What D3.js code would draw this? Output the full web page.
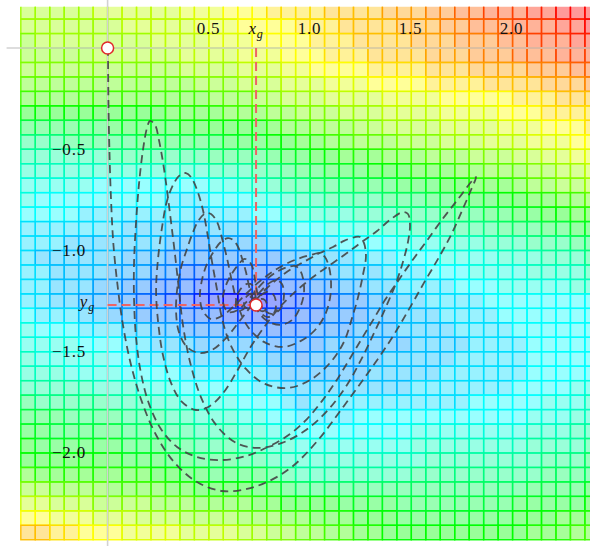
<!DOCTYPE html>
<html>
<head>
<meta charset="utf-8">
<script src="https://cdn.jsdelivr.net/npm/d3@7"></script>
<style>
  html, body { margin: 0; padding: 0; background: #fff; }
  svg { display: block; }
  .lbl { font-family: "Liberation Serif", "Times New Roman", serif; font-size: 17px; letter-spacing: 0.8px; fill: #111; }
</style>
</head>
<body>
<svg width="590" height="546"></svg>
<script>
// heat grid: one string per row (top to bottom), "level*count" runs, level 0 (min) .. 16 (max)
const cell = 0.0716;
const gridLeft = -6 * cell;
const gridTop = 3 * cell;
const heatRows = [
  "10.5*5 11*6 11.5*3 12*3 12.5*4 13*4 13.5*3 14*2 14.5*2 15*3 15.5*2 16*3",
  "10.5*7 11*5 11.5*3 12*4 12.5*3 13*4 13.5*3 14*2 14.5*3 15*3 15.5*2 16*1",
  "10*1 10.5*8 11*4 11.5*3 12*4 12.5*3 13*4 13.5*3 14*3 14.5*2 15*3 15.5*2",
  "10*5 10.5*6 11*4 11.5*3 12*3 12.5*3 13*4 13.5*3 14*3 14.5*3 15*3",
  "10*11 10.5*4 11*3 11.5*2 12*4 12.5*4 13*3 13.5*4 14*3 14.5*2",
  "9.5*12 10*3 10.5*3 11*3 11.5*3 12*4 12.5*4 13*4 13.5*3 14*1",
  "9*13 9.5*3 10*2 10.5*3 11*4 11.5*4 12*5 12.5*3 13*3",
  "8*10 8.5*4 9*3 9.5*2 10*3 10.5*3 11*4 11.5*4 12*3 12.5*4",
  "7*6 7.5*5 8*6 8.5*1 9*2 9.5*3 10*2 10.5*4 11*4 11.5*3 12*3 12.5*1",
  "6*3 6.5*5 7*6 7.5*3 8*2 8.5*2 9*2 9.5*3 10*3 10.5*3 11*3 11.5*3 12*2",
  "5.5*6 6*7 6.5*4 7*1 7.5*2 8*2 8.5*3 9*3 9.5*3 10*3 10.5*2 11*2 11.5*2",
  "5*13 5.5*3 6*2 6.5*1 7*2 7.5*3 8*3 8.5*3 9*2 9.5*3 10*2 10.5*2 11*1",
  "4.5*5 4*8 4.5*2 5*2 5.5*1 6*2 6.5*3 7*3 7.5*3 8*2 8.5*3 9*1 9.5*2 10*2 10.5*1",
  "4.5*1 4*9 3.5*3 4*3 4.5*2 5*1 5.5*2 6*4 6.5*3 7*2 7.5*3 8*2 8.5*2 9*2 9.5*1",
  "4*4 3.5*8 3*1 3.5*3 4*2 4.5*1 5*4 5.5*3 6*3 6.5*3 7*2 7.5*2 8*2 8.5*2",
  "3.5*7 3*5 2.5*1 3*4 3.5*1 4*3 4.5*3 5*3 5.5*3 6*3 6.5*3 7*2 7.5*2",
  "3.5*3 3*7 2.5*2 2*1 2.5*4 3*2 3.5*3 4*4 4.5*3 5*3 5.5*3 6*3 6.5*2",
  "3.5*1 3*6 2.5*3 2*8 2.5*2 3*3 3.5*3 4*3 4.5*4 5*3 5.5*3 6*1",
  "3.5*2 3*4 2.5*3 2*2 1.5*7 2*2 2.5*2 3*3 3.5*3 4*3 4.5*4 5*4 5.5*1",
  "3.5*2 3*3 2.5*2 2*2 1.5*3 1*6 1.5*2 2*2 2.5*2 3*2 3.5*4 4*3 4.5*5 5*2",
  "3.5*2 3*2 2.5*2 2*2 1.5*2 1*2 0.5*2 0*3 0.5*1 1*2 1.5*2 2*2 2.5*2 3*2 3.5*4 4*8",
  "4*1 3.5*3 3*2 2.5*2 2*3 1.5*3 1*5 1.5*2 2*3 2.5*2 3*3 3.5*4 4*7",
  "4.5*1 4*3 3.5*3 3*2 2.5*2 2*4 1.5*5 2*3 2.5*3 3*4 3.5*4 4*6",
  "4.5*4 4*3 3.5*2 3*3 2.5*5 2*4 2.5*6 3*4 3.5*4 4*5",
  "5*1 4.5*5 4*2 3.5*3 3*6 2.5*2 2*1 2.5*5 3*5 3.5*5 4*5",
  "5*3 4.5*4 4*4 3.5*6 3*1 2.5*6 3*5 3.5*6 4*5",
  "5.5*5 5*3 4.5*3 4*5 3.5*2 3*9 3.5*7 4*4 4.5*2",
  "6.5*1 6*5 5.5*3 5*2 4.5*4 4*3 3.5*1 3*1 3.5*11 4*5 4.5*3 5*1",
  "7*3 6.5*4 6*3 5.5*2 5*3 4.5*2 4*2 3.5*4 4*12 4.5*3 5*2",
  "7.5*2 7*5 6.5*3 6*2 5.5*3 5*2 4.5*2 4*8 4.5*8 5*3 5.5*2",
  "8*1 7.5*6 7*3 6.5*2 6*3 5.5*2 5*2 4.5*8 5*8 5.5*4 6*1",
  "8*7 7.5*3 7*2 6.5*3 6*2 5.5*1 5*10 5.5*8 6*3 6.5*1",
  "9*1 8.5*8 8*2 7.5*2 7*4 6.5*1 6*1 5.5*8 6*9 6.5*4",
  "10*2 9.5*4 9*4 8.5*2 8*4 7.5*2 7*1 6.5*16 7*4 7.5*1",
  "11*2 10.5*3 10*4 9.5*3 9*4 8.5*2 8*4 7.5*4 7*8 7.5*5 8*1",
  "12*2 11.5*3 11*3 10.5*3 10*4 9.5*3 9*2 8.5*3 8*3 7.5*8 8*3 8.5*3",
  "13*2 12.5*2 12*3 11.5*4 11*4 10.5*2 10*2 9.5*2 9*2 8.5*2 8*10 8.5*3 9*2"
];

const xTicks = [0.5, 1.0, 1.5, 2.0];
const yTicks = [-0.5, -1.0, -1.5, -2.0];
const start = [0, 0];
const goal = [0.735, -1.272];

// optimizer path
const path = [
  [0.002,0],[0.004,-0.257],[0.009,-0.505],[0.017,-0.752],[0.029,-0.975],[0.049,-1.173],[0.076,-1.371],
  [0.116,-1.569],[0.170,-1.752],[0.240,-1.916],[0.329,-2.050],[0.443,-2.149],[0.566,-2.193],[0.690,-2.183],
  [0.809,-2.139],[0.918,-2.069],
  [1.042,-1.941],[1.170,-1.772],[1.289,-1.609],[1.398,-1.450],[1.487,-1.302],[1.566,-1.163],[1.641,-1.035],
  [1.700,-0.926],[1.754,-0.807],[1.799,-0.703],[1.824,-0.639],
  [1.804,-0.658],[1.735,-0.748],[1.655,-0.851],[1.576,-0.960],[1.507,-1.054],[1.438,-1.153],[1.373,-1.248],
  [1.314,-1.347],[1.254,-1.446],[1.195,-1.545],[1.131,-1.649],[1.061,-1.748],[0.987,-1.837],[0.903,-1.911],
  [0.804,-1.970],[0.685,-2.020],[0.561,-2.040],[0.443,-2.025],[0.344,-1.975],[0.264,-1.886],[0.205,-1.762],
  [0.165,-1.609],[0.141,-1.436],[0.131,-1.248],[0.131,-1.059],[0.141,-0.861],[0.155,-0.678],[0.175,-0.505],
  [0.195,-0.396],[0.210,-0.361],
  [0.235,-0.381],[0.254,-0.455],[0.274,-0.564],[0.294,-0.703],[0.314,-0.861],[0.334,-1.025],[0.353,-1.198],
  [0.373,-1.371],[0.408,-1.554],[0.462,-1.728],[0.537,-1.866],[0.636,-1.955],[0.745,-1.980],[0.863,-1.955],
  [0.982,-1.891],[1.091,-1.792],[1.185,-1.668],[1.259,-1.535],[1.319,-1.411],[1.378,-1.282],[1.428,-1.163],
  [1.462,-1.059],[1.487,-0.960],[1.497,-0.876],[1.487,-0.822],
  [1.462,-0.812],[1.398,-0.851],[1.334,-0.906],[1.259,-0.960],[1.185,-1.015],[1.101,-1.074],[1.017,-1.134],
  [0.933,-1.203],[0.853,-1.282],[0.779,-1.376],[0.705,-1.485],[0.641,-1.599],[0.576,-1.703],[0.507,-1.772],
  [0.438,-1.792],[0.368,-1.752],[0.314,-1.658],[0.274,-1.520],[0.250,-1.356],[0.240,-1.198],[0.250,-1.040],
  [0.269,-0.891],[0.294,-0.757],[0.329,-0.668],[0.358,-0.629],[0.388,-0.619],
  [0.413,-0.639],[0.443,-0.703],[0.472,-0.802],[0.497,-0.936],[0.517,-1.059],[0.542,-1.198],[0.566,-1.337],
  [0.611,-1.475],[0.685,-1.589],[0.779,-1.663],[0.893,-1.683],[1.002,-1.644],[1.101,-1.559],[1.170,-1.455],
  [1.210,-1.337],[1.240,-1.233],[1.264,-1.124],[1.279,-1.030],[1.269,-0.965],[1.250,-0.936],
  [1.225,-0.936],[1.170,-0.955],[1.116,-0.985],[1.051,-1.015],[0.987,-1.050],[0.918,-1.089],[0.853,-1.134],
  [0.779,-1.198],[0.715,-1.272],[0.650,-1.356],[0.586,-1.436],[0.517,-1.495],[0.452,-1.510],[0.393,-1.480],
  [0.353,-1.406],[0.339,-1.307],[0.344,-1.198],[0.363,-1.089],[0.393,-0.995],[0.423,-0.911],[0.452,-0.851],
  [0.487,-0.817],
  [0.512,-0.822],[0.542,-0.861],[0.566,-0.941],[0.591,-1.040],[0.616,-1.158],[0.646,-1.277],[0.695,-1.381],
  [0.774,-1.455],[0.868,-1.480],[0.957,-1.450],[1.027,-1.396],[1.076,-1.322],[1.101,-1.238],[1.106,-1.158],
  [1.096,-1.084],[1.076,-1.035],[1.051,-1.015],
  [1.022,-1.020],[0.952,-1.040],[0.883,-1.069],[0.814,-1.109],[0.750,-1.158],[0.690,-1.213],[0.631,-1.272],
  [0.566,-1.327],[0.512,-1.342],[0.472,-1.302],[0.457,-1.233],[0.467,-1.149],[0.492,-1.069],[0.527,-1.005],
  [0.561,-0.960],[0.596,-0.941],
  [0.621,-0.950],[0.646,-0.985],[0.665,-1.040],[0.685,-1.109],[0.705,-1.198],[0.735,-1.287],[0.784,-1.347],
  [0.853,-1.371],[0.913,-1.347],[0.952,-1.287],[0.972,-1.213],[0.967,-1.139],[0.952,-1.099],[0.928,-1.079],
  [0.893,-1.084],[0.844,-1.104],[0.794,-1.139],[0.745,-1.188],[0.695,-1.248],[0.646,-1.297],[0.596,-1.307],
  [0.571,-1.257],[0.581,-1.188],[0.611,-1.124],[0.646,-1.074],[0.675,-1.045],[0.695,-1.050],
  [0.715,-1.079],[0.730,-1.149],[0.745,-1.228],[0.774,-1.297],[0.819,-1.317],[0.858,-1.287],[0.873,-1.228],
  [0.863,-1.168],[0.834,-1.149],[0.794,-1.168],[0.754,-1.208],[0.705,-1.257],[0.665,-1.297],[0.641,-1.297],
  [0.636,-1.248],[0.655,-1.198],[0.690,-1.168],[0.715,-1.173],[0.730,-1.218],[0.740,-1.267],[0.759,-1.312],
  [0.794,-1.332],[0.824,-1.312],[0.834,-1.262],[0.819,-1.218],[0.784,-1.208],[0.750,-1.233],[0.715,-1.267],
  [0.685,-1.287],[0.675,-1.262],[0.690,-1.228],[0.715,-1.218],[0.730,-1.238],[0.735,-1.272],[0.750,-1.297],
  [0.774,-1.302],[0.789,-1.277],[0.779,-1.248],[0.754,-1.243],[0.730,-1.262],[0.710,-1.277],[0.710,-1.257],
  [0.725,-1.248],[0.735,-1.267],[0.745,-1.282],[0.759,-1.277],[0.750,-1.262],[0.735,-1.272]
];

const width = 590, height = 546;
const svg = d3.select("svg");

const x = d3.scaleLinear().domain([0, 1]).range([107.6, 309.6]);
const y = d3.scaleLinear().domain([0, -1]).range([48, 250]);
const color = d3.scaleLinear()
  .domain([0, 4, 8, 12, 16])
  .range(["#0000ff", "#00ffff", "#00ff00", "#ffff00", "#ff0000"])
  .clamp(true);

// decode the grid
const cells = [];
heatRows.forEach((row, r) => {
  let c = 0;
  row.split(" ").forEach(tok => {
    const [lv, n] = tok.split("*").map(Number);
    for (let k = 0; k < n; k++) {
      cells.push({ r, c, v: lv });
      c++;
    }
  });
});

svg.append("defs").append("clipPath").attr("id", "plotClip")
  .append("rect")
  .attr("x", 0).attr("y", 6.7)
  .attr("width", width).attr("height", height - 6.7);

const heat = svg.append("g").attr("clip-path", "url(#plotClip)");
const cw = x(cell) - x(0);
const ch = y(-cell) - y(0);

heat.append("g").selectAll("rect")
  .data(cells)
  .join("rect")
  .attr("x", d => x(gridLeft + d.c * cell))
  .attr("y", d => y(gridTop - d.r * cell))
  .attr("width", cw)
  .attr("height", ch)
  .attr("fill", d => color(d.v))
  .attr("fill-opacity", 0.4);

heat.append("g").selectAll("rect")
  .data(cells)
  .join("rect")
  .attr("x", d => x(gridLeft + d.c * cell))
  .attr("y", d => y(gridTop - d.r * cell))
  .attr("width", cw)
  .attr("height", ch)
  .attr("fill", "none")
  .attr("stroke", d => color(d.v))
  .attr("stroke-width", 1.4);

// axes through the origin
svg.append("line")
  .attr("x1", x(-0.5)).attr("x2", width)
  .attr("y1", y(0)).attr("y2", y(0))
  .attr("stroke", "#d2d2d2").attr("stroke-width", 1.6);
svg.append("line")
  .attr("x1", x(0)).attr("x2", x(0))
  .attr("y1", 0).attr("y2", height)
  .attr("stroke", "#d2d2d2").attr("stroke-width", 1.6);

// tick labels
const fmt = d3.format(".1f");
svg.append("g").selectAll("text")
  .data(xTicks)
  .join("text")
  .attr("class", "lbl")
  .attr("x", d => x(d))
  .attr("y", 34)
  .attr("text-anchor", "middle")
  .text(d => fmt(d));

svg.append("g").selectAll("text")
  .data(yTicks)
  .join("text")
  .attr("class", "lbl")
  .attr("x", 86)
  .attr("y", d => y(d) + 5.5)
  .attr("text-anchor", "end")
  .text(d => "\u2212" + fmt(-d));

// goal guides
const guide = svg.append("g")
  .attr("stroke", "#ef6464")
  .attr("stroke-width", 2)
  .attr("stroke-dasharray", "9,5")
  .attr("fill", "none");
guide.append("line")
  .attr("x1", x(goal[0])).attr("x2", x(goal[0]))
  .attr("y1", y(0)).attr("y2", y(goal[1]));
guide.append("line")
  .attr("x1", x(0)).attr("x2", x(goal[0]))
  .attr("y1", y(goal[1])).attr("y2", y(goal[1]));

const xg = svg.append("text").attr("class", "lbl")
  .attr("x", x(goal[0])).attr("y", 34).attr("text-anchor", "middle");
xg.append("tspan").attr("font-style", "italic").text("x");
xg.append("tspan").attr("font-style", "italic").attr("font-size", 12).attr("dy", 4).text("g");

const yg = svg.append("text").attr("class", "lbl")
  .attr("x", 95).attr("y", y(goal[1]) + 2).attr("text-anchor", "end");
yg.append("tspan").attr("font-style", "italic").text("y");
yg.append("tspan").attr("font-style", "italic").attr("font-size", 12).attr("dy", 4).text("g");

// trajectory
const line = d3.line()
  .x(d => x(d[0]))
  .y(d => y(d[1]))
  .curve(d3.curveCatmullRom.alpha(0.5));

svg.append("path")
  .datum(path)
  .attr("d", line)
  .attr("fill", "none")
  .attr("stroke", "#444")
  .attr("stroke-opacity", 0.9)
  .attr("stroke-width", 1.8)
  .attr("stroke-dasharray", "8,5");

// start and goal markers
svg.append("g").selectAll("circle")
  .data([start, goal])
  .join("circle")
  .attr("cx", d => x(d[0]))
  .attr("cy", d => y(d[1]))
  .attr("r", 6)
  .attr("fill", "#fff")
  .attr("stroke", "#e02a2a")
  .attr("stroke-width", 1.5);
</script>
</body>
</html>
